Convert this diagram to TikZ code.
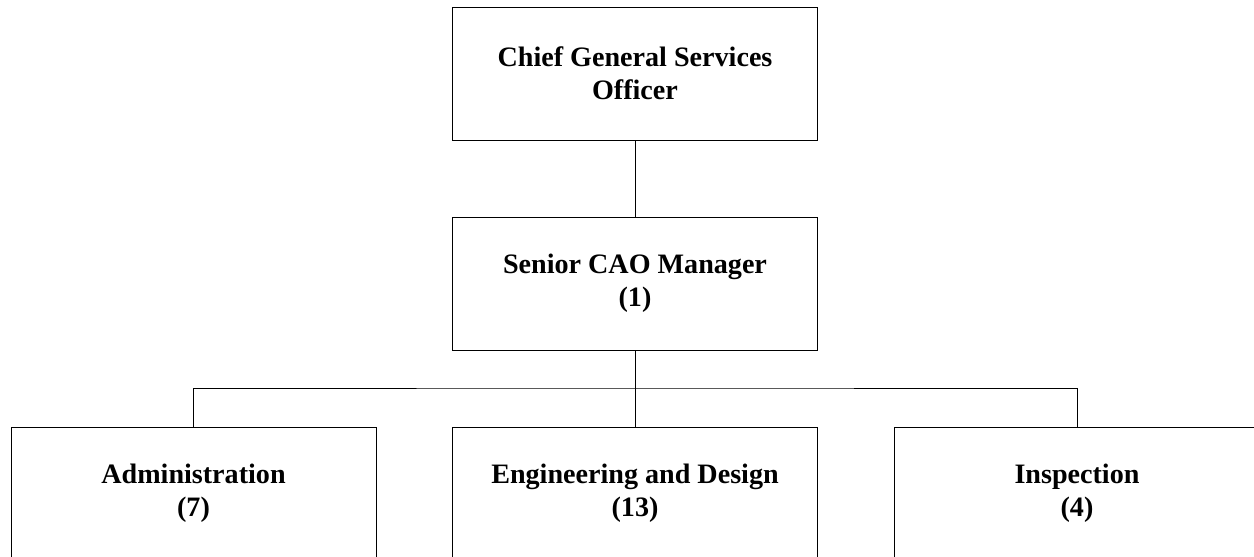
\documentclass[tikz,border=0pt]{standalone}
\usepackage{fontspec}
\setmainfont{Liberation Serif}
\usepackage{tikz}
\usetikzlibrary{positioning}

\begin{document}
\begin{tikzpicture}[
          x=0.02cm, y=-0.02cm,
          unit/.style={draw, line width=0.5pt, minimum width=7.3cm, minimum height=2.66cm,
                       align=center, font=\fontsize{16}{18.8}\selectfont\bfseries},
          link/.style={line width=0.5pt}
      ]
        \useasboundingbox (0,0) rectangle (1254,557);
        \clip (0,0) rectangle (1254,557);
        \node[unit] (cgso) at (635,73.5) {Chief General Services\\Officer};
        \node[unit] (scm) at (635,283.5) {Senior CAO Manager\\(1)};
        \node[unit] (admin) at (193.5,493.5) {Administration\\(7)};
        \node[unit] (eng) at (635,493.5) {Engineering and Design\\(13)};
        \node[unit] (insp) at (1077,493.5) {Inspection\\(4)};
        \coordinate (bus) at (635,388);
        \draw[link] (cgso) -- (scm);
        \draw[link] (scm) -- (eng);
        \draw[link] (admin.north) |- (bus) -| (insp.north);
      \end{tikzpicture}
\end{document}
